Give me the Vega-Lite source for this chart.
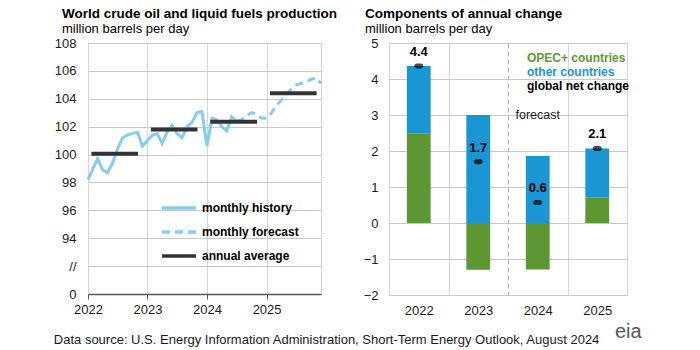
{
  "$schema": "https://vega.github.io/schema/vega-lite/v6.json",
  "padding": {"left": 53, "top": 6, "right": 0, "bottom": 0},
  "background": "white",
  "config": {
    "font": "Liberation Sans",
    "view": {"stroke": "#d4d4d4", "strokeWidth": 1},
    "axis": {"labelFont": "Liberation Sans", "labelFontSize": 13, "labelColor": "#1a1a1a", "gridColor": "#d4d4d4", "gridWidth": 1, "title": null, "labelOverlap": false},
    "title": {"font": "Liberation Sans"}
  },
  "title": {"text": "Data source: U.S. Energy Information Administration, Short-Term Energy Outlook, August 2024", "orient": "bottom", "anchor": "start", "fontSize": 13, "fontWeight": "normal", "color": "#1a1a1a", "offset": -9},
  "spacing": 24,
  "resolve": {
    "scale": {"color": "independent", "strokeDash": "independent"},
    "legend": {"color": "independent", "strokeDash": "independent"}
  },
  "hconcat": [
    {
      "width": 233,
      "height": 251,
      "title": {"text": "World crude oil and liquid fuels production", "subtitle": "million barrels per day", "anchor": "start", "frame": "group", "dx": -26, "fontSize": 13.5, "fontWeight": "bold", "color": "#000000", "subtitleFont": "Liberation Sans", "subtitleFontSize": 13, "subtitleColor": "#000000", "subtitlePadding": 3, "offset": 1},
      "layer": [
        {
          "data": {"values": [
            {"month": "2022/01/01", "value": 98.2, "series": "monthly history"},
            {"month": "2022/02/01", "value": 99.0, "series": "monthly history"},
            {"month": "2022/03/01", "value": 99.7, "series": "monthly history"},
            {"month": "2022/04/01", "value": 98.9, "series": "monthly history"},
            {"month": "2022/05/01", "value": 98.7, "series": "monthly history"},
            {"month": "2022/06/01", "value": 99.4, "series": "monthly history"},
            {"month": "2022/07/01", "value": 100.4, "series": "monthly history"},
            {"month": "2022/08/01", "value": 101.2, "series": "monthly history"},
            {"month": "2022/09/01", "value": 101.4, "series": "monthly history"},
            {"month": "2022/10/01", "value": 101.5, "series": "monthly history"},
            {"month": "2022/11/01", "value": 101.6, "series": "monthly history"},
            {"month": "2022/12/01", "value": 100.6, "series": "monthly history"},
            {"month": "2023/01/01", "value": 101.0, "series": "monthly history"},
            {"month": "2023/02/01", "value": 101.4, "series": "monthly history"},
            {"month": "2023/03/01", "value": 101.5, "series": "monthly history"},
            {"month": "2023/04/01", "value": 100.8, "series": "monthly history"},
            {"month": "2023/05/01", "value": 101.6, "series": "monthly history"},
            {"month": "2023/06/01", "value": 102.1, "series": "monthly history"},
            {"month": "2023/07/01", "value": 101.5, "series": "monthly history"},
            {"month": "2023/08/01", "value": 101.2, "series": "monthly history"},
            {"month": "2023/09/01", "value": 102.0, "series": "monthly history"},
            {"month": "2023/10/01", "value": 102.3, "series": "monthly history"},
            {"month": "2023/11/01", "value": 103.0, "series": "monthly history"},
            {"month": "2023/12/01", "value": 103.1, "series": "monthly history"},
            {"month": "2024/01/01", "value": 100.6, "series": "monthly history"},
            {"month": "2024/02/01", "value": 102.6, "series": "monthly history"},
            {"month": "2024/03/01", "value": 102.5, "series": "monthly history"},
            {"month": "2024/04/01", "value": 102.0, "series": "monthly history"},
            {"month": "2024/05/01", "value": 101.7, "series": "monthly history"},
            {"month": "2024/06/01", "value": 102.7, "series": "monthly history"},
            {"month": "2024/07/01", "value": 102.4, "series": "monthly history"},
            {"month": "2024/07/01", "value": 102.4, "series": "monthly forecast"},
            {"month": "2024/08/01", "value": 102.5, "series": "monthly forecast"},
            {"month": "2024/09/01", "value": 102.8, "series": "monthly forecast"},
            {"month": "2024/10/01", "value": 103.0, "series": "monthly forecast"},
            {"month": "2024/11/01", "value": 102.9, "series": "monthly forecast"},
            {"month": "2024/12/01", "value": 102.6, "series": "monthly forecast"},
            {"month": "2025/01/01", "value": 102.6, "series": "monthly forecast"},
            {"month": "2025/02/01", "value": 103.0, "series": "monthly forecast"},
            {"month": "2025/03/01", "value": 103.5, "series": "monthly forecast"},
            {"month": "2025/04/01", "value": 103.9, "series": "monthly forecast"},
            {"month": "2025/05/01", "value": 104.3, "series": "monthly forecast"},
            {"month": "2025/06/01", "value": 104.7, "series": "monthly forecast"},
            {"month": "2025/07/01", "value": 105.0, "series": "monthly forecast"},
            {"month": "2025/08/01", "value": 105.1, "series": "monthly forecast"},
            {"month": "2025/09/01", "value": 105.2, "series": "monthly forecast"},
            {"month": "2025/10/01", "value": 105.4, "series": "monthly forecast"},
            {"month": "2025/11/01", "value": 105.5, "series": "monthly forecast"},
            {"month": "2025/12/01", "value": 105.1, "series": "monthly forecast"}
          ]},
          "mark": {"type": "line", "strokeWidth": 3},
          "encoding": {
            "x": {"field": "month", "type": "temporal",
              "scale": {"domain": [{"year": 2022, "month": 1, "date": 1}, {"year": 2025, "month": 12, "date": 1}]},
              "axis": {"values": [{"year": 2022, "month": 1, "date": 1}, {"year": 2023, "month": 1, "date": 1}, {"year": 2024, "month": 1, "date": 1}, {"year": 2025, "month": 1, "date": 1}],
                "format": "%Y", "grid": true, "domainColor": "#595959", "domainWidth": 1.5, "tickColor": "#595959", "tickSize": 5, "tickWidth": 1, "labelPadding": 4, "labelFlush": false, "labelOverlap": false}},
            "y": {"field": "value", "type": "quantitative",
              "scale": {"domain": [90, 108], "nice": false, "zero": false},
              "axis": {"tickCount": 9, "labelExpr": "datum.value == 90 ? '0' : datum.value == 92 ? '//' : datum.label", "grid": true, "gridColor": "#c8c8c8", "gridOpacity": 1, "gridWidth": 1, "ticks": false, "domain": false, "labelPadding": 12, "labelOverlap": false}},
            "color": {"field": "series", "type": "nominal",
              "scale": {"domain": ["monthly history", "monthly forecast", "annual average"], "range": ["#84cdf0", "#84cdf0", "#333333"]},
              "legend": {"orient": "none", "legendX": 72, "legendY": 158, "title": null, "symbolType": "stroke", "symbolSize": 1156, "symbolStrokeWidth": 3.5, "clipHeight": 14, "rowPadding": 10, "labelFontSize": 12, "labelFontWeight": "bold", "labelColor": "#000000", "labelOffset": 4, "padding": 0}},
            "strokeDash": {"field": "series", "type": "nominal",
              "scale": {"domain": ["monthly history", "monthly forecast", "annual average"], "range": [[1, 0], [8, 5], [1, 0]]}}
          }
        },
        {
          "data": {"values": [
            {"start": "2022/01/22", "end": "2022/11/04", "value": 100.05, "series": "annual average"},
            {"start": "2023/01/22", "end": "2023/11/04", "value": 101.8, "series": "annual average"},
            {"start": "2024/01/22", "end": "2024/11/04", "value": 102.35, "series": "annual average"},
            {"start": "2025/01/22", "end": "2025/11/04", "value": 104.4, "series": "annual average"}
          ]},
          "mark": {"type": "rule", "strokeWidth": 4},
          "encoding": {
            "x": {"field": "start", "type": "temporal"},
            "x2": {"field": "end"},
            "y": {"field": "value", "type": "quantitative"},
            "color": {"field": "series", "type": "nominal"},
            "strokeDash": {"field": "series", "type": "nominal"}
          }
        }
      ]
    },
    {
      "width": 238,
      "height": 252,
      "title": {"text": "Components of annual change", "subtitle": "million barrels per day", "anchor": "start", "frame": "group", "dx": -24, "fontSize": 13.5, "fontWeight": "bold", "color": "#000000", "subtitleFont": "Liberation Sans", "subtitleFontSize": 13, "subtitleColor": "#000000", "subtitlePadding": 3, "offset": 1},
      "layer": [
        {
          "data": {"values": [
            {"year": "2022", "component": "OPEC+ countries", "value": 2.49},
            {"year": "2022", "component": "other countries", "value": 1.87},
            {"year": "2023", "component": "OPEC+ countries", "value": -1.3},
            {"year": "2023", "component": "other countries", "value": 3.0},
            {"year": "2024", "component": "OPEC+ countries", "value": -1.29},
            {"year": "2024", "component": "other countries", "value": 1.86},
            {"year": "2025", "component": "OPEC+ countries", "value": 0.7},
            {"year": "2025", "component": "other countries", "value": 1.37}
          ]},
          "mark": {"type": "bar", "width": {"band": 0.4}},
          "encoding": {
            "x": {"field": "year", "type": "ordinal",
              "scale": {"paddingInner": 0, "paddingOuter": 0},
              "axis": {"labelAngle": 0, "ticks": false, "domain": false, "grid": true, "tickBand": "extent", "labelPadding": 9,
                "gridDash": {"condition": {"test": "datum.value === '2023'", "value": [5, 3]}, "value": []},
                "gridColor": {"condition": {"test": "datum.value === '2023'", "value": "#a6a6a6"}, "value": "#d4d4d4"}}},
            "y": {"field": "value", "type": "quantitative", "stack": "zero",
              "scale": {"domain": [-2, 5], "nice": false},
              "axis": {"tickCount": 7, "grid": true, "gridColor": "#c8c8c8", "gridOpacity": 1, "gridWidth": 1, "ticks": false, "domain": false, "labelPadding": 11, "labelOverlap": false}},
            "color": {"field": "component", "type": "nominal",
              "scale": {"domain": ["OPEC+ countries", "other countries", "global net change"], "range": ["#5d9732", "#1a96d4", "#000000"]},
              "legend": {"orient": "none", "legendX": 126, "legendY": 9, "title": null, "symbolSize": 0, "symbolOpacity": 0, "symbolStrokeWidth": 0, "labelOffset": 0, "labelFontSize": 12, "labelFontWeight": "bold", "rowPadding": 2, "padding": 0, "labelLimit": 0,
                "encode": {"labels": {"update": {"fill": {"signal": "datum.value === 'OPEC+ countries' ? '#5d9732' : datum.value === 'other countries' ? '#1a96d4' : '#000000'"}}}}}},
            "order": {"field": "component", "sort": "ascending"}
          }
        },
        {
          "mark": {"type": "rule", "color": "#595959", "strokeWidth": 1.5},
          "encoding": {"y": {"datum": 0}}
        },
        {
          "data": {"values": [
            {"year": "2022", "net": 4.36},
            {"year": "2023", "net": 1.7},
            {"year": "2024", "net": 0.57},
            {"year": "2025", "net": 2.07}
          ]},
          "layer": [
            {
              "mark": {"type": "tick", "thickness": 5, "size": 9, "cornerRadius": 2.5},
              "encoding": {
                "x": {"field": "year", "type": "ordinal"},
                "y": {"field": "net", "type": "quantitative"},
                "color": {"datum": "global net change"}
              }
            },
            {
              "mark": {"type": "text", "dy": -14, "fontWeight": "bold", "fontSize": 13, "color": "#000000"},
              "encoding": {
                "x": {"field": "year", "type": "ordinal"},
                "y": {"field": "net", "type": "quantitative"},
                "text": {"field": "net", "type": "quantitative", "format": ".1f"}
              }
            }
          ]
        },
        {
          "data": {"values": [{"note": "forecast"}]},
          "mark": {"type": "text", "fontSize": 12.5, "color": "#1a1a1a"},
          "encoding": {"x": {"datum": "2024"}, "y": {"datum": 3}, "text": {"field": "note"}}
        },
        {
          "data": {"values": [{"logo": "eia"}]},
          "mark": {"type": "text", "fontSize": 20, "color": "#595959", "dx": 31, "dy": 43, "baseline": "alphabetic"},
          "encoding": {"x": {"datum": "2025"}, "y": {"datum": -2}, "text": {"field": "logo"}}
        }
      ]
    }
  ]
}
